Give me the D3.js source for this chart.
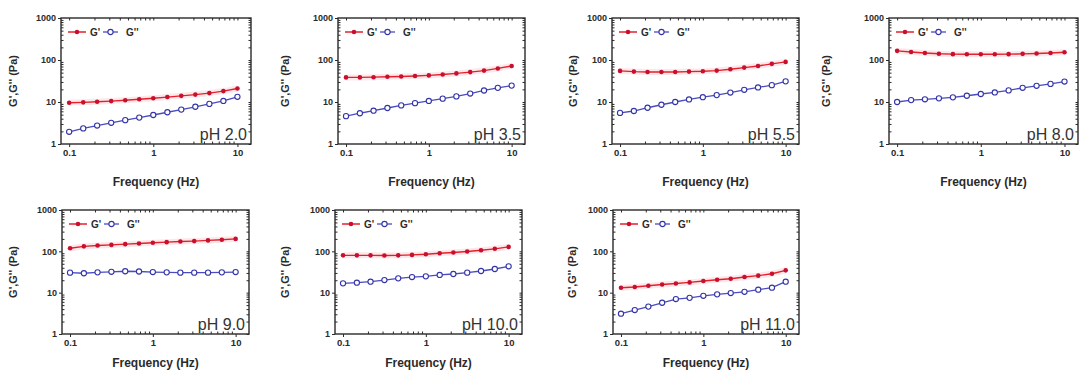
<!DOCTYPE html>
<html>
<head>
<meta charset="utf-8">
<script src="https://cdn.jsdelivr.net/npm/d3@7"></script>
<style>
  html, body { margin: 0; padding: 0; background: #fff; }
  svg { display: block; font-family: "Liberation Sans", Arial, sans-serif; }
</style>
</head>
<body>
<svg id="chart" width="1083" height="371"></svg>
<script>
// Oscillation frequency sweep (Hz), shared by every panel
const frequency = [0.1, 0.147, 0.215, 0.316, 0.464, 0.681, 1, 1.47, 2.15, 3.16, 4.64, 6.81, 10];

const phLabels = ["pH 2.0", "pH 3.5", "pH 5.5", "pH 8.0", "pH 9.0", "pH 10.0", "pH 11.0"];

// Storage modulus G' (Pa)
const storagePH20  = [9.6, 9.8, 10.1, 10.5, 11.0, 11.6, 12.3, 13.1, 14.0, 15.0, 16.3, 18.2, 21.0];
const storagePH35  = [38.5, 38.5, 39, 40, 40.5, 41.5, 43, 45, 48, 51.5, 56, 63, 72];
const storagePH55  = [55, 53, 52, 52, 52, 53, 54, 56, 60, 66, 72, 81, 90];
const storagePH80  = [165, 155, 147, 141, 138, 137, 137, 137, 138, 140, 143, 147, 153];
const storagePH90  = [119, 132, 138, 143, 149, 155, 161, 167, 173, 177, 184, 191, 200];
const storagePH100 = [80, 80, 80, 79, 80, 82, 85, 90, 94, 99, 106, 115, 128];
const storagePH110 = [13.2, 13.7, 14.7, 15.8, 16.7, 17.7, 19.1, 20.5, 21.7, 23.9, 25.8, 28.7, 34.7];

// Loss modulus G'' (Pa)
const lossPH20  = [1.95, 2.35, 2.75, 3.2, 3.7, 4.25, 4.9, 5.7, 6.6, 7.7, 9.0, 10.6, 13.3];
const lossPH35  = [4.6, 5.4, 6.2, 7.2, 8.3, 9.4, 10.6, 12.0, 13.6, 15.9, 18.8, 21.7, 24.6];
const lossPH55  = [5.5, 6.1, 7.3, 8.6, 10, 11.5, 13, 14.6, 16.8, 19.5, 22.2, 25.2, 31];
const lossPH80  = [10, 11.1, 11.6, 12.2, 12.9, 14.1, 15.5, 16.9, 18.9, 21.8, 24.3, 27, 30.7];
const lossPH90  = [30.5, 29.5, 31, 32, 33, 32.5, 31.5, 31, 30.5, 30.5, 30.5, 31, 31.5];
const lossPH100 = [16.8, 17.4, 18.4, 20.2, 22.2, 23.9, 24.8, 26.8, 28.3, 30.5, 33.4, 37.4, 43.4];
const lossPH110 = [3.1, 3.8, 4.6, 5.7, 7.0, 7.5, 8.4, 9.1, 9.8, 10.5, 11.8, 13.2, 18.4];

const xMajorTicks = [0.1, 1, 10];
const xTickLabels = ["0.1", "1", "10"];
const yMajorTicks = [1, 10, 100, 1000];
const yTickLabels = ["1", "10", "100", "1000"];

const storageSeries = [storagePH20, storagePH35, storagePH55, storagePH80, storagePH90, storagePH100, storagePH110];
const lossSeries = [lossPH20, lossPH35, lossPH55, lossPH80, lossPH90, lossPH100, lossPH110];

// Panel placement on the page
const layout = [
  { left: 61,  right: 251,  top: 18,  bottom: 144, titleX: 13,  xTitleDy: 38 },
  { left: 338, right: 525,  top: 18,  bottom: 144, titleX: 285, xTitleDy: 38 },
  { left: 612, right: 799,  top: 18,  bottom: 144, titleX: 573, xTitleDy: 38 },
  { left: 889, right: 1078, top: 18,  bottom: 144, titleX: 826, xTitleDy: 38 },
  { left: 62,  right: 249,  top: 210, bottom: 334, titleX: 13,  xTitleDy: 29 },
  { left: 335, right: 522,  top: 210, bottom: 334, titleX: 285, xTitleDy: 29 },
  { left: 613, right: 799,  top: 210, bottom: 334, titleX: 572, xTitleDy: 29 }
];

const RED = "#e3202b", RED_DOT = "#c8102e";
const BLUE = "#4b4bc0", BLUE_DOT = "#3434a8";
const INK = "#2a2a2a";

const svg = d3.select("#chart");
svg.append("rect").attr("width", 1083).attr("height", 371).attr("fill", "#fff");

function minorTicks(lo, hi) {
  const out = [];
  for (let d = lo; d < hi; d *= 10) for (let k = 2; k <= 9; k++) out.push(d * k);
  return out;
}
const xMinor = minorTicks(0.1, 10);
const yMinor = minorTicks(1, 1000);

layout.forEach((L, i) => {
  const w = L.right - L.left, h = L.bottom - L.top;
  const x = d3.scaleLog().domain([0.08, 14.5]).range([0, w]);
  const y = d3.scaleLog().domain([1, 1000]).range([h, 0]);
  const g = svg.append("g").attr("transform", `translate(${L.left},${L.top})`);

  const styleAxis = sel => {
    sel.select(".domain").remove();
    sel.selectAll("line").attr("stroke", INK).attr("stroke-width", 1);
  };

  // bottom axis: labelled majors outward, minors inward
  g.append("g").attr("transform", `translate(0,${h})`)
    .call(d3.axisBottom(x).tickValues(xMajorTicks).tickSize(3).tickPadding(2)
      .tickFormat((d, j) => xTickLabels[j]))
    .call(styleAxis)
    .call(a => a.selectAll("text").attr("fill", INK).attr("font-size", 9.5).attr("font-weight", "bold")
      .attr("font-family", "Liberation Sans, Arial, sans-serif"));
  g.append("g").attr("transform", `translate(0,${h})`)
    .call(d3.axisBottom(x).tickValues(xMinor).tickSize(-2.5).tickFormat(""))
    .call(styleAxis);
  // top mirror ticks (inward)
  g.append("g")
    .call(d3.axisTop(x).tickValues(xMajorTicks.concat(xMinor)).tickSize(-2.5).tickFormat(""))
    .call(styleAxis);

  // left axis
  g.append("g")
    .call(d3.axisLeft(y).tickValues(yMajorTicks).tickSize(3).tickPadding(2)
      .tickFormat((d, j) => yTickLabels[j]))
    .call(styleAxis)
    .call(a => a.selectAll("text").attr("fill", INK).attr("font-size", 9).attr("font-weight", "bold")
      .attr("font-family", "Liberation Sans, Arial, sans-serif"));
  g.append("g")
    .call(d3.axisLeft(y).tickValues(yMinor).tickSize(-2.5).tickFormat(""))
    .call(styleAxis);
  // right mirror ticks (inward)
  g.append("g").attr("transform", `translate(${w},0)`)
    .call(d3.axisRight(y).tickValues(yMajorTicks.concat(yMinor)).tickSize(-2.5).tickFormat(""))
    .call(styleAxis);

  // frame
  g.append("rect").attr("width", w).attr("height", h)
    .attr("fill", "none").attr("stroke", INK).attr("stroke-width", 1.4);

  const line = d3.line().x(d => x(d[0])).y(d => y(d[1]));
  const gp = frequency.map((f, k) => [f, storageSeries[i][k]]);
  const gpp = frequency.map((f, k) => [f, lossSeries[i][k]]);

  // G'' loss modulus: open blue circles
  g.append("path").datum(gpp).attr("d", line)
    .attr("fill", "none").attr("stroke", BLUE).attr("stroke-width", 1.3);
  g.selectAll(".loss").data(gpp).join("circle").attr("class", "loss")
    .attr("cx", d => x(d[0])).attr("cy", d => y(d[1])).attr("r", 2.6)
    .attr("fill", "#fff").attr("stroke", BLUE_DOT).attr("stroke-width", 1.1);

  // G' storage modulus: filled red circles with a faint halo
  g.append("path").datum(gp).attr("d", line)
    .attr("fill", "none").attr("stroke", "#f6b4ba").attr("stroke-opacity", 0.3).attr("stroke-width", 6);
  g.append("path").datum(gp).attr("d", line)
    .attr("fill", "none").attr("stroke", RED).attr("stroke-width", 1.4);
  g.selectAll(".storage").data(gp).join("circle").attr("class", "storage")
    .attr("cx", d => x(d[0])).attr("cy", d => y(d[1])).attr("r", 2.3)
    .attr("fill", RED_DOT);

  // legend
  const lg = g.append("g").attr("transform", "translate(0,14)");
  lg.append("line").attr("x1", 7).attr("x2", 25).attr("stroke", RED).attr("stroke-width", 1.5);
  lg.append("circle").attr("cx", 16).attr("r", 2.3).attr("fill", RED_DOT);
  lg.append("text").attr("x", 29).attr("dy", "0.35em").text("G'")
    .attr("font-size", 10).attr("font-weight", "bold").attr("fill", INK);
  lg.append("line").attr("x1", 42).attr("x2", 57).attr("stroke", BLUE).attr("stroke-width", 1.3);
  lg.append("circle").attr("cx", 49.5).attr("r", 2.6).attr("fill", "#fff")
    .attr("stroke", BLUE_DOT).attr("stroke-width", 1.1);
  lg.append("text").attr("x", 65).attr("dy", "0.35em").text("G''")
    .attr("font-size", 10).attr("font-weight", "bold").attr("fill", INK);

  // pH tag
  g.append("text").attr("x", w - 4).attr("y", h - 4).attr("text-anchor", "end")
    .attr("font-size", 16).attr("fill", "#333").text(phLabels[i]);

  // axis titles
  g.append("text").attr("x", w / 2).attr("y", h + L.xTitleDy).attr("dy", "0.35em")
    .attr("text-anchor", "middle").attr("font-size", 12).attr("font-weight", "bold")
    .attr("fill", INK).text("Frequency (Hz)");
  svg.append("text")
    .attr("transform", `translate(${L.titleX},${L.top + h / 2}) rotate(-90)`)
    .attr("dy", "0.35em").attr("text-anchor", "middle").attr("font-size", 11)
    .attr("font-weight", "bold").attr("fill", INK).text("G',G'' (Pa)");
});
</script>
</body>
</html>
